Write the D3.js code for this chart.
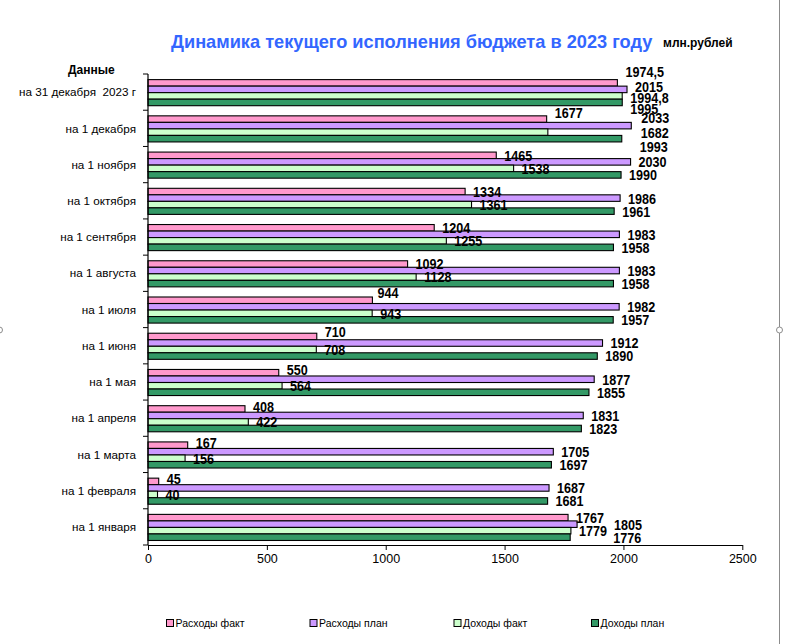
<!DOCTYPE html>
<html>
<head>
<meta charset="utf-8">
<script src="https://cdn.jsdelivr.net/npm/d3@7"></script>
<style>
  html, body { margin: 0; padding: 0; background: #fff; }
  svg { display: block; }
  text { font-family: Arial, "Liberation Sans", sans-serif; }
</style>
</head>
<body>
<script>
// ---------- DATA ----------
const categories = [
  "на 31 декабря  2023 г", "на 1 декабря", "на 1 ноября", "на 1 октября",
  "на 1 сентября", "на 1 августа", "на 1 июля", "на 1 июня", "на 1 мая",
  "на 1 апреля", "на 1 марта", "на 1 февраля", "на 1 января"
];
const seriesNames = ["Расходы факт", "Расходы план", "Доходы факт", "Доходы план"];
const rashodyFakt = [1974.5, 1677, 1465, 1334, 1204, 1092, 944, 710, 550, 408, 167, 45, 1767];
const rashodyPlan = [2015, 2033, 2030, 1986, 1983, 1983, 1982, 1912, 1877, 1831, 1705, 1687, 1805];
const dohodyFakt  = [1994.8, 1682, 1538, 1361, 1255, 1128, 943, 708, 564, 422, 156, 40, 1779];
const dohodyPlan  = [1995, 1993, 1990, 1961, 1958, 1958, 1957, 1890, 1855, 1823, 1697, 1681, 1776];
const xTicks = [0, 500, 1000, 1500, 2000, 2500];
const titleText = "Динамика текущего исполнения бюджета в 2023 году";
const unitText = "млн.рублей";
const axisTitle = "Данные";

// ---------- STYLE / LAYOUT ----------
const colors = ["#FF99CC", "#CC99FF", "#CCFFCC", "#339966"];
// manual label nudges (px) as in the original chart: key "category-series"
const labelNudges = {
  "0-0": [0, -11], "0-1": [0, -3], "0-2": [0, 2], "0-3": [0, 6],
  "1-0": [0, -7], "1-1": [2, -8], "1-2": [85, 0], "1-3": [10, 8],
  "6-0": [-3, -8], "7-0": [0, -5], "8-0": [0, -3], "9-0": [0, -2],
  "10-0": [0, -3], "11-0": [0, -3],
  "12-1": [29, 0], "12-3": [35, 0]
};

const W = 785, H = 644;
const plot = { left: 148, right: 742.3, top: 74, bottom: 545 };

const svg = d3.select("body").append("svg").attr("width", W).attr("height", H);
svg.append("rect").attr("width", W).attr("height", H).attr("fill", "#fff");

const seriesValues = [rashodyFakt, rashodyPlan, dohodyFakt, dohodyPlan];
const rows = categories.map((c, i) => ({
  cat: c, idx: i,
  vals: seriesValues.map((arr, s) => ({ s, v: arr[i] }))
}));

const x = d3.scaleLinear().domain([0, 2500]).range([plot.left, plot.right]);
const y0 = d3.scaleBand().domain(categories).range([plot.top, plot.bottom]).padding(0);
const bw = y0.bandwidth();
const y1 = d3.scaleBand().domain(d3.range(4)).range([bw * 0.155, bw * 0.875]).padding(0);

// ---------- BARS ----------
const g = svg.append("g");
const groups = g.selectAll("g.cat").data(rows).join("g")
  .attr("class", "cat")
  .attr("transform", d => `translate(0,${y0(d.cat)})`);

groups.selectAll("rect").data(d => d.vals).join("rect")
  .attr("x", x(0))
  .attr("y", d => y1(d.s))
  .attr("width", d => x(d.v) - x(0))
  .attr("height", y1.bandwidth())
  .attr("fill", d => colors[d.s])
  .attr("stroke", "#000")
  .attr("stroke-width", 1.1);

// ---------- DATA LABELS ----------
const fmt = v => String(v).replace(".", ",");
rows.forEach(r => {
  r.vals.forEach(d => {
    const nudge = labelNudges[r.idx + "-" + d.s] || [0, 0];
    const lx = x(d.v) + 8 + nudge[0];
    const ly = y0(r.cat) + y1(d.s) + y1.bandwidth() / 2 + nudge[1];
    svg.append("text")
      .attr("transform", `translate(${lx},${ly}) scale(0.84,1)`)
      .attr("dy", "0.36em")
      .attr("font-size", 15)
      .attr("font-weight", "bold")
      .attr("fill", "#000")
      .text(fmt(d.v));
  });
});

// ---------- AXES ----------
const xAxis = d3.axisBottom(x).tickValues(xTicks).tickSize(5).tickSizeOuter(0).tickPadding(4).tickFormat(d3.format("d"));
const xg = svg.append("g").attr("transform", `translate(0,${plot.bottom})`).call(xAxis);
xg.select(".domain").attr("stroke", "#000").attr("stroke-width", 1.2);
xg.selectAll(".tick line").attr("stroke", "#000");
xg.selectAll(".tick text").attr("font-size", 12.5).attr("fill", "#000")
  .attr("font-family", 'Arial, "Liberation Sans", sans-serif');

// left axis: line with ticks on band boundaries
const yg = svg.append("g");
yg.append("line").attr("x1", plot.left).attr("x2", plot.left)
  .attr("y1", plot.top).attr("y2", plot.bottom).attr("stroke", "#000").attr("stroke-width", 1.2);
const boundaries = categories.map(c => y0(c)).concat([plot.bottom]);
yg.selectAll("line.tk").data(boundaries).join("line").attr("class", "tk")
  .attr("x1", plot.left - 5).attr("x2", plot.left)
  .attr("y1", d => d).attr("y2", d => d).attr("stroke", "#000");
yg.selectAll("text").data(categories).join("text")
  .attr("x", 136)
  .attr("y", d => y0(d) + bw / 2)
  .attr("dy", "0.36em")
  .attr("text-anchor", "end")
  .attr("font-size", 11.7)
  .attr("fill", "#000")
  .style("white-space", "pre")
  .attr("xml:space", "preserve")
  .text(d => d);

svg.append("text").attr("x", 68).attr("y", 74).attr("font-size", 12)
  .attr("font-weight", "bold").text(axisTitle);

// ---------- TITLE ----------
svg.append("text").attr("x", 171).attr("y", 48).attr("font-size", 18.2)
  .attr("font-weight", "bold").attr("fill", "#3366FF").text(titleText);
svg.append("text").attr("x", 663).attr("y", 47).attr("font-size", 12)
  .attr("font-weight", "bold").attr("fill", "#000").text(unitText);

// ---------- LEGEND ----------
const legendX = [166.5, 310, 454, 591.5];
const lg = svg.append("g").selectAll("g").data(seriesNames).join("g")
  .attr("transform", (d, i) => `translate(${legendX[i]},623)`);
lg.append("rect").attr("x", 0).attr("y", -3.5).attr("width", 7).attr("height", 7)
  .attr("fill", (d, i) => colors[i]).attr("stroke", "#000").attr("stroke-width", 1);
lg.append("text").attr("x", 9).attr("dy", "0.36em").attr("font-size", 10.5)
  .attr("fill", "#000").text(d => d);

// ---------- FRAME ----------
svg.append("line").attr("x1", 779.5).attr("x2", 779.5).attr("y1", 0).attr("y2", H)
  .attr("stroke", "#8c8c8c").attr("stroke-width", 1);
svg.append("circle").attr("cx", 779.5).attr("cy", 330).attr("r", 3)
  .attr("fill", "#fff").attr("stroke", "#8c8c8c");
svg.append("circle").attr("cx", -0.5).attr("cy", 330).attr("r", 3)
  .attr("fill", "#fff").attr("stroke", "#8c8c8c");
</script>
</body>
</html>
